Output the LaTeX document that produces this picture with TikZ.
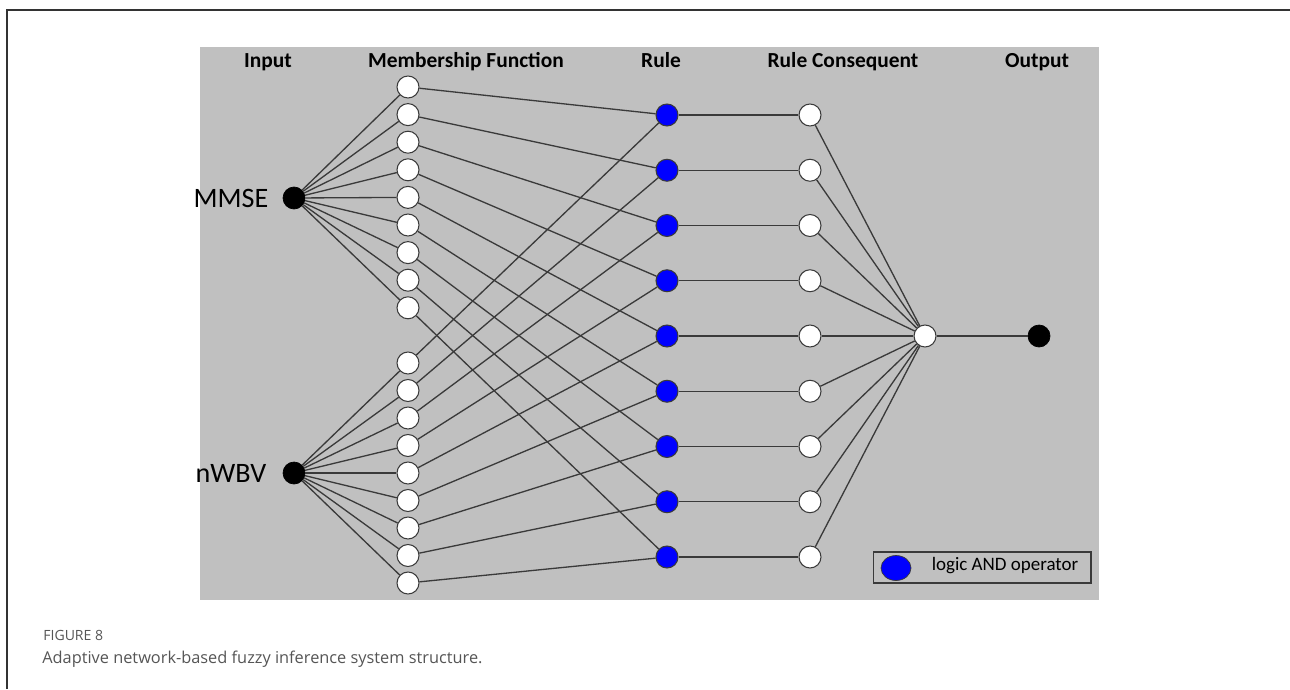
\documentclass[tikz,border=0pt]{standalone}
\usepackage{fontspec}
\setmainfont{Carlito}
\newfontfamily\capfont{Open Sans}
\usepackage{xcolor}
\usetikzlibrary{shapes.geometric}

\definecolor{panelgray}{HTML}{C0C0C0}
\definecolor{wiregray}{HTML}{3A3A3A}
\definecolor{capgray}{HTML}{555555}

\tikzset{
  wire/.style={draw=wiregray, line width=0.75pt},
  mfnode/.style={circle, draw=wiregray, fill=white, line width=0.6pt, minimum size=0.44cm, inner sep=0pt},
  andnode/.style={circle, draw=wiregray, fill=blue, line width=0.6pt, minimum size=0.44cm, inner sep=0pt},
  innode/.style={circle, draw=black, fill=black, minimum size=0.44cm, inner sep=0pt},
  layertitle/.style={anchor=base, font=\fontsize{12.2}{14}\selectfont\bfseries},
  inlabel/.style={font=\fontsize{16}{18}\selectfont},
}

\begin{document}
\begin{tikzpicture}[x=0.02cm, y=-0.02cm]
                
                \useasboundingbox (0,0) rectangle (1290,689);
                
                % Cadre et fond
                \draw[line width=1pt, black!80] (7,689) -- (7,10) -- (1290,10);
                \fill[panelgray] (200,47) rectangle (1099,600);
        
                % Titres des couches
                \node[layertitle] (tin) at (268,68) {Input};
                \node[layertitle] (tmf) at (466,68) {Membership Function};
                \node[layertitle] (trule) at (661,68) {Rule};
                \node[layertitle] (tcons) at (843,68) {Rule Consequent};
                \node[layertitle] (tout) at (1037,68) {Output};
        
                % Entrées
                \node[innode] (mmse) at (294,198) {};
                \node[innode] (nwbv) at (294,473) {};
                \node[inlabel] (lmmse) at (231,198) {MMSE};
                \node[inlabel] (lnwbv) at (231,473) {nWBV};
        
                % Noeuds des couches
                \foreach \i in {1,...,9} {
                    \node[mfnode] (mfa\i) at (408,{87+27.6*(\i-1)}) {};
                    \node[mfnode] (mfb\i) at (408,{363+27.5*(\i-1)}) {};
                    \node[andnode] (rule\i) at (667,{115+55.25*(\i-1)}) {};
                    \node[mfnode] (cons\i) at (810,{115+55.25*(\i-1)}) {};
                }
                \node[mfnode] (agg) at (925,336) {};
                \node[innode] (out) at (1039,336) {};
        
                % Connexions
                \foreach \i in {1,...,9} {
                    \draw[wire] (mmse) -- (mfa\i);
                    \draw[wire] (nwbv) -- (mfb\i);
                    \draw[wire] (mfa\i) -- (rule\i);
                    \draw[wire] (mfb\i) -- (rule\i);
                    \draw[wire] (rule\i) -- (cons\i);
                    \draw[wire] (cons\i) -- (agg);
                }
                \draw[wire] (agg) -- (out);
        
                % Légende
                \node[draw=wiregray, line width=0.6pt, minimum width=4.36cm, minimum height=0.62cm, inner sep=0pt] (legend) at (982,567.5) {};
                \node[ellipse, draw=wiregray, fill=blue, minimum width=0.6cm, minimum height=0.5cm, inner sep=0pt] (legdot) at (896,568) {};
                \node[font=\fontsize{10.8}{12}\selectfont] (legtext) at (1005,566) {logic AND operator};
        
                % Légende de la figure
                \node[anchor=base west, inner sep=0pt, font=\capfont\fontsize{8}{9}\selectfont, text=capgray] (figno) at (43,640) {FIGURE 8};
                \node[anchor=base west, inner sep=0pt, font=\capfont\fontsize{9.3}{11}\selectfont, text=capgray] (figcap) at (42,663) {Adaptive network-based fuzzy inference system structure.};

            \end{tikzpicture}
\end{document}
